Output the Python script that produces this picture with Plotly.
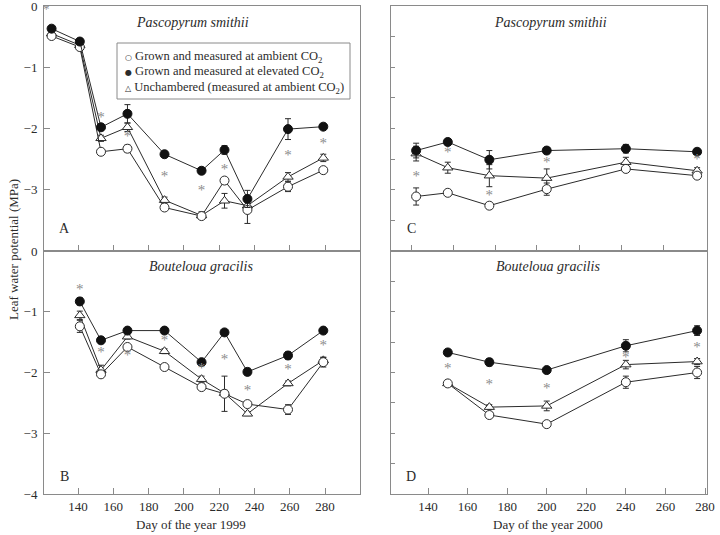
import plotly.graph_objects as go

W, H = 720, 535

# ---------------- data: 1999 (panels A and B) ----------------
days_A = [125, 141, 153, 168, 189, 210, 223, 236, 259, 279]
A_ambient = [-0.49, -0.67, -2.38, -2.33, -3.29, -3.43, -2.85, -3.33, -2.95, -2.68]
A_ambient_err = [0.03, 0.03, 0.04, 0.06, 0.04, 0.05, 0.05, 0.22, 0.08, 0.04]
A_elevated = [-0.37, -0.58, -1.98, -1.76, -2.42, -2.69, -2.35, -3.15, -2.01, -1.97]
A_elevated_err = [0.03, 0.03, 0.04, 0.15, 0.05, 0.05, 0.07, 0.14, 0.17, 0.04]
A_unch = [-0.45, -0.64, -2.16, -1.98, -3.17, -3.42, -3.18, -3.26, -2.79, -2.48]
A_unch_err = [0.03, 0.03, 0.05, 0.07, 0.05, 0.06, 0.12, 0.05, 0.07, 0.06]
A_star_days = [153, 168, 189, 210, 223, 259, 279]
A_star = [-1.83, -2.14, -2.79, -3.02, -2.68, -2.45, -2.26]

days_B = [141, 153, 168, 189, 210, 223, 236, 259, 279]
B_ambient = [-1.24, -2.03, -1.58, -1.91, -2.24, -2.35, -2.52, -2.61, -1.83]
B_ambient_err = [0.10, 0.05, 0.04, 0.05, 0.05, 0.29, 0.04, 0.08, 0.08]
B_elevated = [-0.83, -1.47, -1.31, -1.31, -1.83, -1.34, -1.99, -1.72, -1.31]
B_elevated_err = [0.06, 0.03, 0.03, 0.05, 0.04, 0.03, 0.06, 0.06, 0.03]
B_unch = [-1.06, -1.96, -1.41, -1.65, -2.11, -2.34, -2.68, -2.18, -1.80]
B_unch_err = [0.07, 0.08, 0.04, 0.04, 0.05, 0.05, 0.03, 0.04, 0.05]
B_star_days = [141, 153, 168, 189, 210, 223, 236, 259, 279]
B_star = [-0.65, -1.68, -1.74, -1.49, -1.95, -1.80, -2.31, -1.96, -1.57]

# ---------------- data: 2000 (panels C and D) ----------------
days_C = [134, 150, 171, 200, 240, 276]
C_ambient = [-3.11, -3.05, -3.26, -2.99, -2.66, -2.77]
C_ambient_err = [0.14, 0.04, 0.05, 0.10, 0.04, 0.04]
C_elevated = [-2.36, -2.22, -2.51, -2.36, -2.33, -2.38]
C_elevated_err = [0.12, 0.05, 0.15, 0.05, 0.07, 0.03]
C_unch = [-2.41, -2.64, -2.77, -2.81, -2.55, -2.69]
C_unch_err = [0.12, 0.09, 0.18, 0.15, 0.08, 0.05]
C_star_days = [134, 150, 171, 200, 276]
C_star = [-2.79, -2.41, -3.10, -2.56, -2.52]

days_D = [150, 171, 200, 240, 276]
D_ambient = [-2.18, -2.70, -2.85, -2.16, -2.00]
D_ambient_err = [0.03, 0.05, 0.04, 0.10, 0.10]
D_elevated = [-1.67, -1.83, -1.96, -1.56, -1.31]
D_elevated_err = [0.03, 0.06, 0.03, 0.10, 0.08]
D_unch = [-2.18, -2.57, -2.55, -1.87, -1.82]
D_unch_err = [0.03, 0.04, 0.08, 0.07, 0.05]
D_star_days = [150, 171, 200, 240, 276]
D_star = [-1.94, -2.21, -2.27, -1.76, -1.60]

# tick labels
x_ticks = [140, 160, 180, 200, 220, 240, 260, 280]
C_x_ticks = [131.8, 152.8, 173.9, 194.9, 216.5, 237.9, 258.9]
y_ticks_A = [0, -1, -2, -3]
y_ticks_B = [0, -1, -2, -3, -4]
y_ticks_right = [-0.5, -1, -1.5, -2, -2.5, -3, -3.5]

series_names = [
    "Grown and measured at ambient CO<sub>2</sub>",
    "Grown and measured at elevated CO<sub>2</sub>",
    "Unchambered (measured at ambient CO<sub>2</sub>)",
]

FONT = "Liberation Serif"
INK = "#2b2b2b"
FRAME = "#8a8a8a"
STAR = "#8c8c8c"


def px(x):
    return x / W


def py(y):
    return 1 - y / H


fig = go.Figure()

styles = {
    "ambient": dict(symbol="circle", color="white", line=dict(color=INK, width=1), size=9),
    "elevated": dict(symbol="circle", color="#111111", line=dict(color="#111111", width=1), size=9),
    "unch": dict(symbol="triangle-up", color="white", line=dict(color=INK, width=1), size=9),
}

panels = [
    ("x", "y", days_A, [(A_unch, A_unch_err, "unch"), (A_ambient, A_ambient_err, "ambient"),
                        (A_elevated, A_elevated_err, "elevated")], A_star_days, A_star),
    ("x2", "y2", days_B, [(B_unch, B_unch_err, "unch"), (B_ambient, B_ambient_err, "ambient"),
                          (B_elevated, B_elevated_err, "elevated")], B_star_days, B_star),
    ("x3", "y3", days_C, [(C_unch, C_unch_err, "unch"), (C_ambient, C_ambient_err, "ambient"),
                          (C_elevated, C_elevated_err, "elevated")], C_star_days, C_star),
    ("x4", "y4", days_D, [(D_unch, D_unch_err, "unch"), (D_ambient, D_ambient_err, "ambient"),
                          (D_elevated, D_elevated_err, "elevated")], D_star_days, D_star),
]

for xa, ya, days, series, sdays, svals in panels:
    for vals, err, key in series:
        fig.add_trace(go.Scatter(
            x=days, y=vals, xaxis=xa, yaxis=ya, mode="lines+markers",
            line=dict(color=INK, width=1),
            marker=styles[key],
            error_y=dict(type="data", array=err, visible=True, color=INK, thickness=1, width=3),
            showlegend=False, hoverinfo="skip",
        ))
    fig.add_trace(go.Scatter(
        x=sdays, y=svals, xaxis=xa, yaxis=ya, mode="text", text=["*"] * len(sdays),
        textfont=dict(family=FONT, size=15, color=STAR), textposition="middle center",
        showlegend=False, hoverinfo="skip",
    ))

xl = [px(44), px(360)]
xr = [px(391), px(707)]
ytop = [py(251), py(6)]
ybot = [py(494), py(251)]

common_x = dict(showgrid=False, zeroline=False, showline=True, mirror=True, linecolor=FRAME,
                linewidth=1, ticks="inside", ticklen=6, tickcolor=FRAME, automargin=False,
                ticklabeloverflow="allow",
                tickfont=dict(family=FONT, size=13, color=INK))
common_y = dict(showgrid=False, zeroline=False, showline=True, mirror=True, linecolor=FRAME,
                linewidth=1, ticks="inside", tickcolor=FRAME, range=[-4, 0], automargin=False,
                ticklabeloverflow="allow", ticklabelstandoff=3,
                tickfont=dict(family=FONT, size=13, color=INK))

fig.update_layout(
    width=W, height=H, margin=dict(l=0, r=0, t=0, b=0, autoexpand=False),
    paper_bgcolor="white", plot_bgcolor="white", showlegend=False,
    font=dict(family=FONT, color=INK, size=13),
    xaxis=dict(common_x, domain=xl, range=[120.7, 299.8], anchor="y", tickvals=x_ticks,
               showticklabels=False),
    yaxis=dict(common_y, domain=ytop, anchor="x", tickvals=y_ticks_A, ticklen=6,
               tickformat="d"),
    xaxis2=dict(common_x, domain=xl, range=[120.7, 299.8], anchor="y2", tickvals=x_ticks),
    yaxis2=dict(common_y, domain=ybot, anchor="x2", tickvals=y_ticks_B, ticklen=6,
                tickformat="d"),
    xaxis3=dict(common_x, domain=xr, range=[121.3, 281.0], anchor="y3", tickvals=C_x_ticks,
                showticklabels=False),
    yaxis3=dict(common_y, domain=ytop, anchor="x3", tickvals=y_ticks_right, ticklen=4,
                showticklabels=False),
    xaxis4=dict(common_x, domain=xr, range=[121.3, 281.0], anchor="y4", tickvals=x_ticks),
    yaxis4=dict(common_y, domain=ybot, anchor="x4", tickvals=y_ticks_right, ticklen=4,
                showticklabels=False),
)

ann = []


def text(x, y, s, size=13, **kw):
    d = dict(x=px(x), y=py(y), xref="paper", yref="paper", text=s, showarrow=False,
             font=dict(family=FONT, size=size, color=kw.pop("color", INK)),
             xanchor=kw.pop("xanchor", "center"), yanchor=kw.pop("yanchor", "middle"))
    d.update(kw)
    ann.append(d)


text(192, 23, "<i>Pascopyrum smithii</i>", 14)
text(550, 23, "<i>Pascopyrum smithii</i>", 14)
text(201, 266, "<i>Bouteloua gracilis</i>", 14)
text(548, 266, "<i>Bouteloua gracilis</i>", 14)
text(64, 228, "A", 14)
text(64, 476, "B", 14)
text(411, 228, "C", 14)
text(411, 476, "D", 14)
text(191, 524, "Day of the year 1999", 13)
text(548, 524, "Day of the year 2000", 13)
text(13, 250, "Leaf water potential (MPa)", 13, textangle=-90)
text(46, 9, "*", 13, color=STAR)

# legend (box + symbol glyphs + labels)
legend_symbols = ["○", "●", "△"]
leg_y = [57, 72.5, 88]
for sym, name, yy in zip(legend_symbols, series_names, leg_y):
    text(123, yy, "<span style='font-family:DejaVu Sans;font-size:8px'>" + sym + "</span> " + name,
         12.5, xanchor="left")

fig.update_layout(annotations=ann, shapes=[dict(
    type="rect", xref="paper", yref="paper", x0=px(117), x1=px(350), y0=py(99), y1=py(43),
    line=dict(color=FRAME, width=1), fillcolor="rgba(0,0,0,0)")])

fig.write_html("out.html", config={"displayModeBar": False},
               post_script="document.body.style.margin='0px';")
